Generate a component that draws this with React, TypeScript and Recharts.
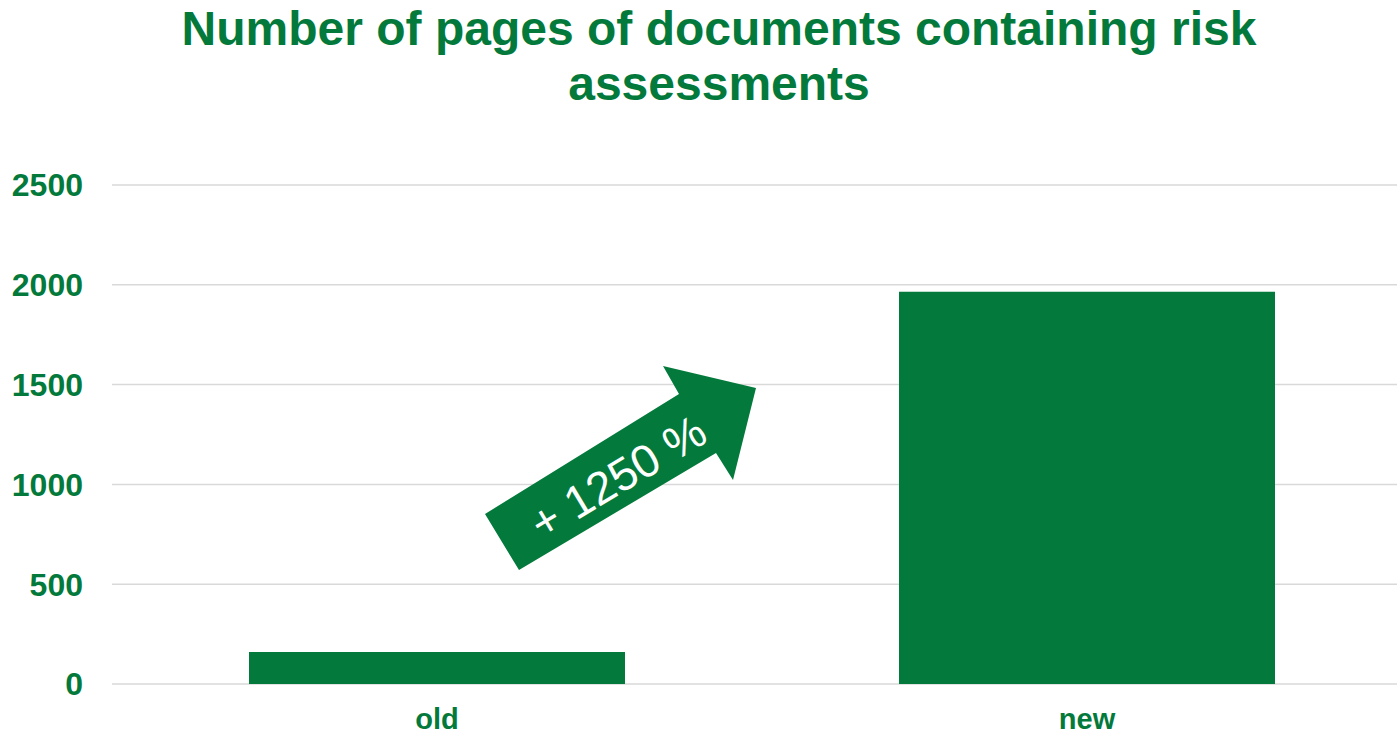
import { BarChart, Bar, XAxis, YAxis, CartesianGrid } from 'recharts';

const categories = ['old', 'new'];
const pages = [160, 1965];
const yTicks = [0, 500, 1000, 1500, 2000, 2500];
const titleLines = ['Number of pages of documents containing risk', 'assessments'];
const arrowLabel = '+ 1250 %';

const GREEN = '#037a3b';
const FONT = '"Liberation Sans", Arial, sans-serif';

const data = categories.map((c, i) => ({ name: c, pages: pages[i] }));

export default function App() {
  return (
    <div
      style={{
        position: 'fixed',
        left: 0,
        top: 0,
        width: 1397,
        height: 733,
        overflow: 'hidden',
        background: '#fff',
        fontFamily: FONT,
      }}
    >
      <div
        style={{
          position: 'absolute',
          left: 0,
          top: 1,
          width: 1438,
          textAlign: 'center',
          color: GREEN,
          fontWeight: 'bold',
          fontSize: 48,
          lineHeight: '55px',
        }}
      >
        {titleLines.map((t) => (
          <div key={t}>{t}</div>
        ))}
      </div>
      <BarChart
        width={1412}
        height={733}
        data={data}
        margin={{ top: 185, right: 0, bottom: 0, left: 0 }}
        barCategoryGap={137}
      >
        <CartesianGrid vertical={false} stroke="#d9d9d9" strokeWidth={1.5} />
        <XAxis
          dataKey="name"
          height={49}
          axisLine={false}
          tickLine={false}
          tickSize={0}
          tickMargin={24}
          tick={{ fill: GREEN, fontSize: 29, fontWeight: 'bold', fontFamily: FONT }}
        />
        <YAxis
          width={112}
          domain={[0, 2500]}
          ticks={yTicks}
          axisLine={false}
          tickLine={false}
          tickSize={0}
          tickMargin={29}
          tick={{ fill: GREEN, fontSize: 32, fontWeight: 'bold', fontFamily: FONT }}
        />
        <Bar dataKey="pages" fill={GREEN} isAnimationActive={false} />
      </BarChart>
      <svg
        width={1397}
        height={733}
        style={{ position: 'absolute', left: 0, top: 0, pointerEvents: 'none' }}
      >
        <polygon
          points="519,570 485,514 679,394 663,366 756,388 733,480 716,453"
          fill={GREEN}
        />
        <text
          x={618}
          y={477}
          fill="#fff"
          fontSize={46}
          fontFamily={FONT}
          textAnchor="middle"
          dominantBaseline="central"
          transform="rotate(-31 618 477)"
        >
          {arrowLabel}
        </text>
      </svg>
    </div>
  );
}
